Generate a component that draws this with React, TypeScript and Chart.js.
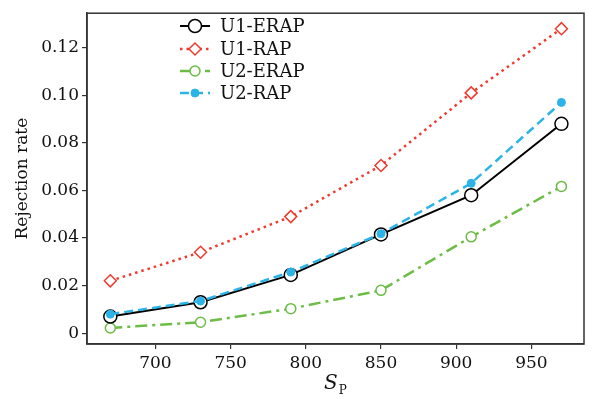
import React, { useEffect, useRef } from "react";
import { Chart, registerables } from "chart.js";

Chart.register(...registerables);

const sp = [670, 730, 790, 850, 910, 970];
const u1Erap = [0.007, 0.013, 0.0245, 0.0415, 0.058, 0.088];
const u1Rap = [0.022, 0.034, 0.049, 0.0705, 0.101, 0.128];
const u2Erap = [0.0022, 0.0046, 0.0103, 0.018, 0.0405, 0.0617];
const u2Rap = [0.008, 0.0135, 0.0257, 0.0418, 0.063, 0.097];
const xTicks = [700, 750, 800, 850, 900, 950];
const yTicks = [0, 0.02, 0.04, 0.06, 0.08, 0.1, 0.12];
const seriesNames = ["U1-ERAP", "U1-RAP", "U2-ERAP", "U2-RAP"];

const FONT = "'DejaVu Serif', 'Liberation Serif', serif";

const toPts = (ys: number[]) => ys.map((y, i) => ({ x: sp[i], y }));

const drawMarker = (ctx: CanvasRenderingContext2D, ds: any, x: number, y: number) => {
  const r = ds.pointRadius;
  ctx.save();
  ctx.lineWidth = ds.pointBorderWidth;
  ctx.strokeStyle = ds.pointBorderColor;
  ctx.fillStyle = ds.pointBackgroundColor;
  ctx.setLineDash([]);
  ctx.beginPath();
  if (ds.pointStyle === "rectRot") {
    ctx.moveTo(x, y - r);
    ctx.lineTo(x + r, y);
    ctx.lineTo(x, y + r);
    ctx.lineTo(x - r, y);
    ctx.closePath();
  } else {
    ctx.arc(x, y, r, 0, Math.PI * 2);
  }
  ctx.fill();
  ctx.stroke();
  ctx.restore();
};

const framePlugin = {
  id: "frameAndLegend",
  afterDraw(chart: any) {
    const { ctx, chartArea } = chart;
    ctx.save();
    ctx.strokeStyle = "#333";
    ctx.lineWidth = 1.5;
    ctx.setLineDash([]);
    ctx.strokeRect(chartArea.left, chartArea.top, chartArea.right - chartArea.left, chartArea.bottom - chartArea.top);

    // x axis title: S with subscript P
    const cx = (chartArea.left + chartArea.right) / 2;
    ctx.fillStyle = "#111";
    ctx.textBaseline = "alphabetic";
    ctx.font = `italic 20px ${FONT}`;
    const sW = ctx.measureText("S").width;
    ctx.font = `12px ${FONT}`;
    const pW = ctx.measureText("P").width;
    const start = cx - (sW + pW + 1) / 2;
    ctx.font = `italic 20px ${FONT}`;
    ctx.textAlign = "left";
    ctx.fillText("S", start, 389);
    ctx.font = `12px ${FONT}`;
    ctx.fillText("P", start + sW + 1, 394);

    // legend
    const rows = [26, 49, 71, 93];
    chart.data.datasets.forEach((ds: any, i: number) => {
      const y = rows[i];
      ctx.save();
      ctx.strokeStyle = ds.borderColor;
      ctx.lineWidth = ds.borderWidth;
      ctx.setLineDash(ds.borderDash || []);
      ctx.beginPath();
      ctx.moveTo(180, y);
      ctx.lineTo(210, y);
      ctx.stroke();
      ctx.restore();
      drawMarker(ctx, ds, 195, y);
      ctx.fillStyle = "#111";
      ctx.font = `18px ${FONT}`;
      ctx.textAlign = "left";
      ctx.textBaseline = "middle";
      ctx.fillText(ds.label, 220, y + 1);
    });
    ctx.restore();
  },
};

export default function App() {
  const ref = useRef<HTMLCanvasElement | null>(null);
  useEffect(() => {
    document.body.style.margin = "0";
    const canvas = ref.current;
    if (!canvas) return;
    const chart = new Chart(canvas, {
      type: "line",
      data: {
        datasets: [
          {
            label: seriesNames[0],
            data: toPts(u1Erap),
            borderColor: "#000",
            borderWidth: 2,
            pointStyle: "circle",
            pointRadius: 6.5,
            pointBorderWidth: 1.5,
            pointBorderColor: "#000",
            pointBackgroundColor: "#fff",
            order: 1,
          },
          {
            label: seriesNames[1],
            data: toPts(u1Rap),
            borderColor: "#f03a2e",
            borderWidth: 2.5,
            borderDash: [2.5, 4],
            pointStyle: "rectRot",
            pointRadius: 6,
            pointBorderWidth: 1.5,
            pointBorderColor: "#f03a2e",
            pointBackgroundColor: "#fff",
            order: 3,
          },
          {
            label: seriesNames[2],
            data: toPts(u2Erap),
            borderColor: "#6cbd45",
            borderWidth: 2.5,
            borderDash: [12, 5, 3, 5],
            pointStyle: "circle",
            pointRadius: 5,
            pointBorderWidth: 1.5,
            pointBorderColor: "#6cbd45",
            pointBackgroundColor: "#fff",
            order: 2,
          },
          {
            label: seriesNames[3],
            data: toPts(u2Rap),
            borderColor: "#2cb4e8",
            borderWidth: 2.5,
            borderDash: [9, 5],
            pointStyle: "circle",
            pointRadius: 4,
            pointBorderWidth: 1,
            pointBorderColor: "#2cb4e8",
            pointBackgroundColor: "#2cb4e8",
            order: 0,
          },
        ] as any,
      },
      options: {
        animation: false,
        responsive: false,
        maintainAspectRatio: false,
        layout: { padding: { left: 0, right: 4, top: 8, bottom: 0 } },
        plugins: { legend: { display: false }, tooltip: { enabled: false } },
        elements: { line: { tension: 0 } },
        scales: {
          x: {
            type: "linear",
            min: 654.5,
            max: 985,
            afterBuildTicks: (axis: any) => {
              axis.ticks = xTicks.map((v) => ({ value: v }));
            },
            afterFit: (axis: any) => {
              axis.height = 55;
            },
            grid: { display: true, drawOnChartArea: false, tickLength: 5, tickColor: "#333", lineWidth: 1.2 },
            border: { display: true, color: "#333", width: 1.5 },
            ticks: {
              color: "#111",
              font: { family: FONT, size: 17 },
              padding: 4,
              maxRotation: 0,
              autoSkip: false,
            },
          },
          y: {
            type: "linear",
            min: -0.00455,
            max: 0.1345,
            afterBuildTicks: (axis: any) => {
              axis.ticks = yTicks.map((v) => ({ value: v }));
            },
            afterFit: (axis: any) => {
              axis.width = 87;
            },
            grid: { display: true, drawOnChartArea: false, tickLength: 5, tickColor: "#333", lineWidth: 1.2 },
            border: { display: true, color: "#333", width: 1.5 },
            ticks: {
              color: "#111",
              font: { family: FONT, size: 17 },
              padding: 3,
              autoSkip: false,
              callback: (v: any) => (Number(v) === 0 ? "0" : Number(v).toFixed(2)),
            },
            title: {
              display: true,
              text: "Rejection rate",
              color: "#111",
              font: { family: FONT, size: 17 },
              padding: { top: 12, bottom: 2 },
            },
          },
        },
      },
      plugins: [framePlugin],
    });
    return () => chart.destroy();
  }, []);
  return (
    <div style={{ width: 592, height: 399, background: "#fff" }}>
      <canvas ref={ref} width={592} height={399} style={{ display: "block" }} />
    </div>
  );
}
